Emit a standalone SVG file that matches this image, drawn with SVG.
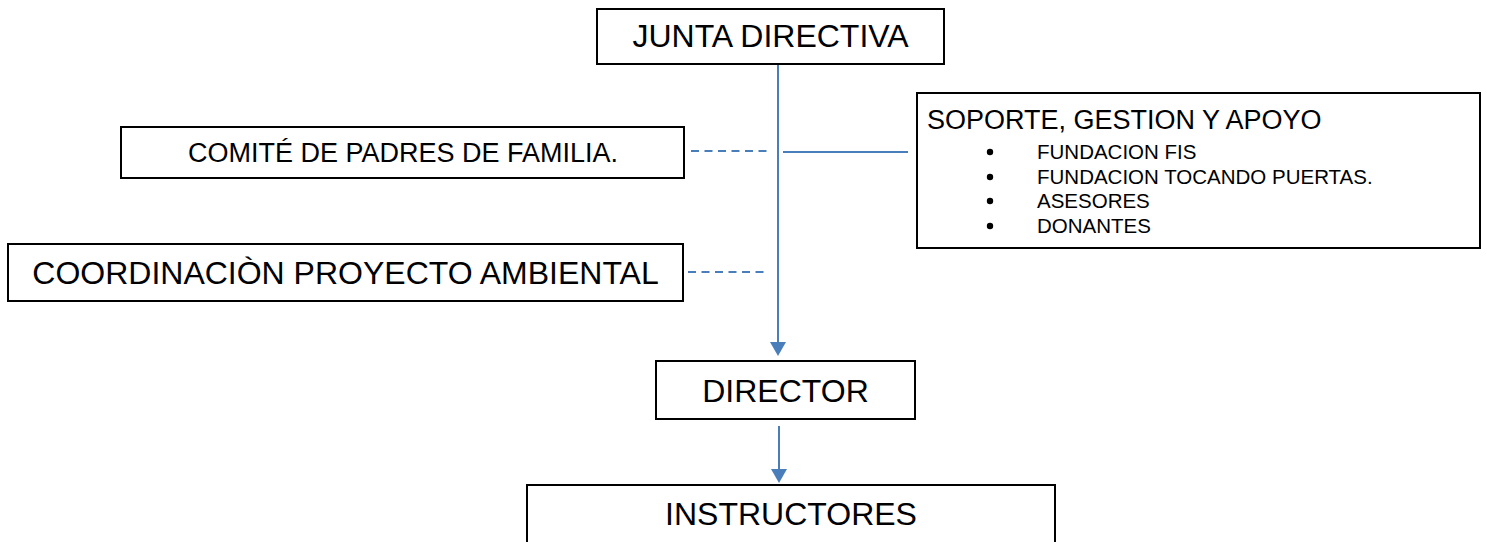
<svg xmlns="http://www.w3.org/2000/svg" width="1487" height="542" viewBox="0 0 1487 542">
  <style>
    .box { fill: #ffffff; stroke: #000000; stroke-width: 2; }
    .t { font-family: "Liberation Sans", Arial, sans-serif; fill: #000000; }
    .big { font-size: 32px; }
    .mid { font-size: 27px; }
    .small { font-size: 20.5px; }
    .conn { stroke: #4A7EBB; stroke-width: 2; fill: none; }
    .dash { stroke-dasharray: 8 5.5; }
  </style>
  <defs>
    <marker id="arrow" markerUnits="userSpaceOnUse" markerWidth="14" markerHeight="16" refX="0" refY="8" orient="auto">
      <path d="M0,0 L14,8 L0,16 z" fill="#4A7EBB"/>
    </marker>
  </defs>
  <rect width="1487" height="542" fill="#ffffff"/>

  <g id="connectors">
    <line class="conn" x1="778" y1="63" x2="778" y2="342" marker-end="url(#arrow)"/>
    <line class="conn" x1="779" y1="426" x2="779" y2="469" marker-end="url(#arrow)"/>
    <line class="conn dash" x1="691" y1="151" x2="769" y2="151"/>
    <line class="conn dash" x1="688" y1="272" x2="765" y2="272"/>
    <line class="conn" x1="783" y1="152" x2="908" y2="152"/>
  </g>

  <g id="junta">
    <rect class="box" x="597" y="9" width="347" height="55"/>
    <text class="t big" x="770.5" y="47" text-anchor="middle">JUNTA DIRECTIVA</text>
  </g>

  <g id="comite">
    <rect class="box" x="121" y="127" width="563" height="51"/>
    <text class="t mid" x="403" y="162" text-anchor="middle">COMITÉ DE PADRES DE FAMILIA.</text>
  </g>

  <g id="soporte">
    <rect class="box" x="917" y="93" width="563" height="155"/>
    <text class="t mid" x="927" y="129">SOPORTE, GESTION Y APOYO</text>
    <circle cx="990" cy="152" r="3.2" fill="#000000"/>
    <circle cx="990" cy="177" r="3.2" fill="#000000"/>
    <circle cx="990" cy="201" r="3.2" fill="#000000"/>
    <circle cx="990" cy="226" r="3.2" fill="#000000"/>
    <text class="t small" x="1037" y="159">FUNDACION FIS</text>
    <text class="t small" x="1037" y="184">FUNDACION TOCANDO PUERTAS.</text>
    <text class="t small" x="1037" y="208">ASESORES</text>
    <text class="t small" x="1037" y="233">DONANTES</text>
  </g>

  <g id="coordinacion">
    <rect class="box" x="8" y="244" width="675" height="57"/>
    <text class="t big" x="345.5" y="284" text-anchor="middle">COORDINACIÒN PROYECTO AMBIENTAL</text>
  </g>

  <g id="director">
    <rect class="box" x="656" y="361" width="259" height="58"/>
    <text class="t big" x="785.5" y="402" text-anchor="middle">DIRECTOR</text>
  </g>

  <g id="instructores">
    <rect class="box" x="527" y="485" width="528" height="80"/>
    <text class="t big" x="791" y="525" text-anchor="middle">INSTRUCTORES</text>
  </g>
</svg>
